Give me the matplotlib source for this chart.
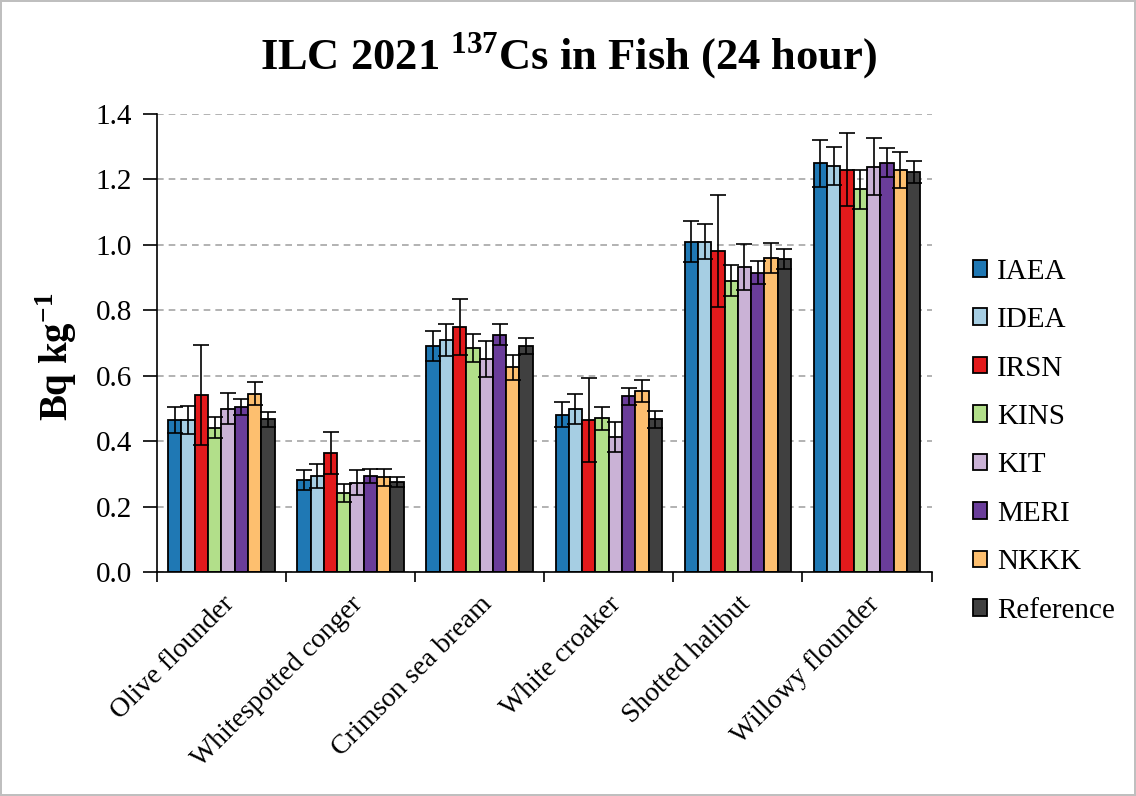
import numpy as np
import matplotlib
matplotlib.use("Agg")
import matplotlib.pyplot as plt

plt.rcParams["font.family"] = ["Liberation Serif", "DejaVu Serif"]
plt.rcParams["mathtext.fontset"] = "custom"
plt.rcParams["mathtext.rm"] = "Liberation Serif"
plt.rcParams["mathtext.bf"] = "Liberation Serif:bold"

# ==== data ====
fish = ["Olive flounder", "Whitespotted conger", "Crimson sea bream",
        "White croaker", "Shotted halibut", "Willowy flounder"]
labs = ["IAEA", "IDEA", "IRSN", "KINS", "KIT", "MERI", "NKKK", "Reference"]
colors = ["#1f78b4", "#a6cee3", "#e31a1c", "#b2df8a",
          "#cab2d6", "#6a3d9a", "#fdbf6f", "#404040"]

IAEA = [0.465, 0.282, 0.691, 0.481, 1.010, 1.249]
IDEA = [0.465, 0.294, 0.710, 0.498, 1.010, 1.241]
IRSN = [0.541, 0.365, 0.750, 0.465, 0.981, 1.230]
KINS = [0.442, 0.243, 0.685, 0.470, 0.890, 1.170]
KIT = [0.500, 0.274, 0.651, 0.413, 0.932, 1.239]
MERI = [0.504, 0.295, 0.726, 0.537, 0.915, 1.251]
NKKK = [0.546, 0.290, 0.626, 0.553, 0.960, 1.229]
Reference = [0.467, 0.275, 0.692, 0.467, 0.957, 1.223]

IAEA_err = [0.040, 0.031, 0.045, 0.038, 0.062, 0.072]
IDEA_err = [0.044, 0.036, 0.048, 0.045, 0.054, 0.058]
IRSN_err = [0.153, 0.065, 0.085, 0.128, 0.170, 0.110]
KINS_err = [0.033, 0.027, 0.043, 0.036, 0.047, 0.060]
KIT_err = [0.048, 0.038, 0.056, 0.045, 0.070, 0.087]
MERI_err = [0.025, 0.022, 0.031, 0.025, 0.035, 0.045]
NKKK_err = [0.034, 0.025, 0.038, 0.033, 0.047, 0.055]
Reference_err = [0.022, 0.015, 0.024, 0.025, 0.030, 0.033]

vals = [IAEA, IDEA, IRSN, KINS, KIT, MERI, NKKK, Reference]
errs = [IAEA_err, IDEA_err, IRSN_err, KINS_err, KIT_err, MERI_err, NKKK_err, Reference_err]

# ==== plot ====
fig = plt.figure(figsize=(11.36, 7.96), dpi=100)
fig.patch.set_edgecolor("#bfbfbf")
fig.patch.set_linewidth(1.5)
ax = fig.add_axes([0.138, 0.281, 0.682, 0.576])

x = np.arange(len(fish))
w = 0.103
for i, (v, e) in enumerate(zip(vals, errs)):
    pos = x + (i - 3.5) * w
    ax.bar(pos, v, width=w, color=colors[i], edgecolor="black",
           linewidth=1.3, label=labs[i], zorder=2)
    ax.errorbar(pos, v, yerr=e, fmt="none", ecolor="black",
                elinewidth=1.2, capsize=6, capthick=1.2, zorder=3)

ax.set_ylim(0, 1.4)
ax.set_xlim(-0.5, len(fish) - 0.5)
ticks = np.arange(0, 1.41, 0.2)
ax.set_yticks(ticks)
ax.set_yticklabels([f"{t:.1f}" for t in ticks], fontsize=21)
ax.yaxis.grid(True, linestyle=(0, (4, 3)), color="#a6a6a6", linewidth=1.2, zorder=0)
ax.set_axisbelow(True)

ax.set_xticks(x)
ax.set_xticklabels(fish, rotation=45, ha="right", rotation_mode="anchor", fontsize=20)
ax.tick_params(axis="x", length=0, pad=14)
ax.set_xticks(np.arange(-0.5, len(fish)), minor=True)
ax.tick_params(axis="x", which="minor", length=7, width=1.2, direction="out")
ax.tick_params(axis="y", length=10, width=1.2, direction="out", pad=8)

for s in ["top", "right"]:
    ax.spines[s].set_visible(False)
ax.spines["left"].set_linewidth(1.2)
ax.spines["bottom"].set_linewidth(1.2)

ax.set_ylabel(r"Bq kg$^{\mathbf{-1}}$", fontsize=28, fontweight="bold")
ax.yaxis.set_label_coords(-0.10, 0.47)
fig.suptitle(r"ILC 2021 $^{\mathbf{137}}$Cs in Fish (24 hour)", fontsize=32,
             fontweight="bold", y=0.962)

ax.legend(loc="center left", bbox_to_anchor=(1.053, 0.286), frameon=False,
          fontsize=21, handlelength=0.5, handleheight=0.5, handletextpad=0.35,
          labelspacing=0.77, borderpad=0, borderaxespad=0)

fig.savefig("out.png", dpi=100)
